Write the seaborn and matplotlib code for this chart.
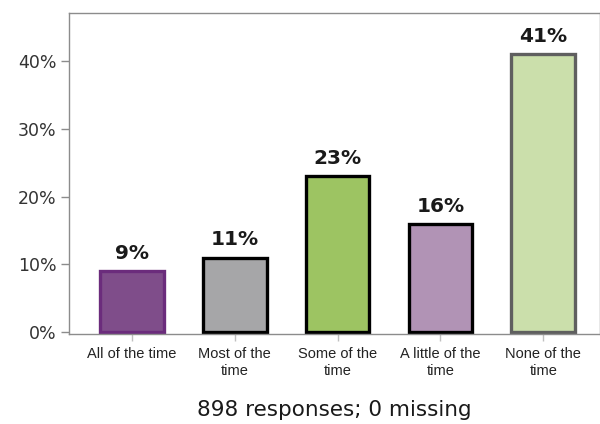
import numpy as np
import pandas as pd
import seaborn as sns
import matplotlib.pyplot as plt
from matplotlib.ticker import PercentFormatter

categories = ["All of the time", "Most of the\ntime", "Some of the\ntime",
              "A little of the\ntime", "None of the\ntime"]
values = [9, 11, 23, 16, 41]
fills = ["#7f4d8a", "#a6a6a8", "#9dc462", "#b193b5", "#cbdfab"]
edges = ["#6b2c7c", "#000000", "#000000", "#000000", "#5f5f5f"]
footer = "898 responses; 0 missing"

sns.set_style("white")
plt.rcParams["font.family"] = ["DejaVu Sans"]

df = pd.DataFrame({"category": categories, "value": values})

fig = plt.figure(figsize=(6.0, 4.24), dpi=100)
ax = fig.add_axes([0.115, 0.212, 0.885, 0.757])
sns.barplot(data=df, x="category", y="value", hue="category", palette=fills,
            width=0.62, legend=False, ax=ax, saturation=1)

for patch, ec in zip(ax.patches, edges):
    patch.set_edgecolor(ec)
    patch.set_linewidth(2.4)

for i, v in enumerate(values):
    ax.text(i, v + 1.2, f"{v}%", ha="center", va="bottom",
            fontsize=14.5, fontweight="bold", color="#1a1a1a")

ax.set_xlim(-0.61, 4.55)
ax.set_ylim(-0.3, 47.1)
ax.set_yticks([0, 10, 20, 30, 40])
ax.yaxis.set_major_formatter(PercentFormatter(decimals=0))
ax.set_xlabel("")
ax.set_ylabel("")

for s in ["left", "bottom", "top", "right"]:
    ax.spines[s].set_color("#8c8c8c")
    ax.spines[s].set_linewidth(1.0)

ax.tick_params(axis="y", length=6, width=1, color="#8c8c8c", labelsize=12.5,
               labelcolor="#333333", pad=3)
ax.tick_params(axis="x", length=5, width=1, color="#c0c0c0", labelsize=10.5,
               labelcolor="#222222", pad=4)
for lab in ax.get_xticklabels():
    lab.set_family(["Liberation Sans", "DejaVu Sans"])
    lab.set_linespacing(1.35)
ax.tick_params(axis="both", direction="out", bottom=True, left=True)

fig.text(0.557, 0.032, footer, ha="center", va="center", fontsize=15.5,
         color="#1a1a1a")

fig.savefig("out.png", dpi=100)
